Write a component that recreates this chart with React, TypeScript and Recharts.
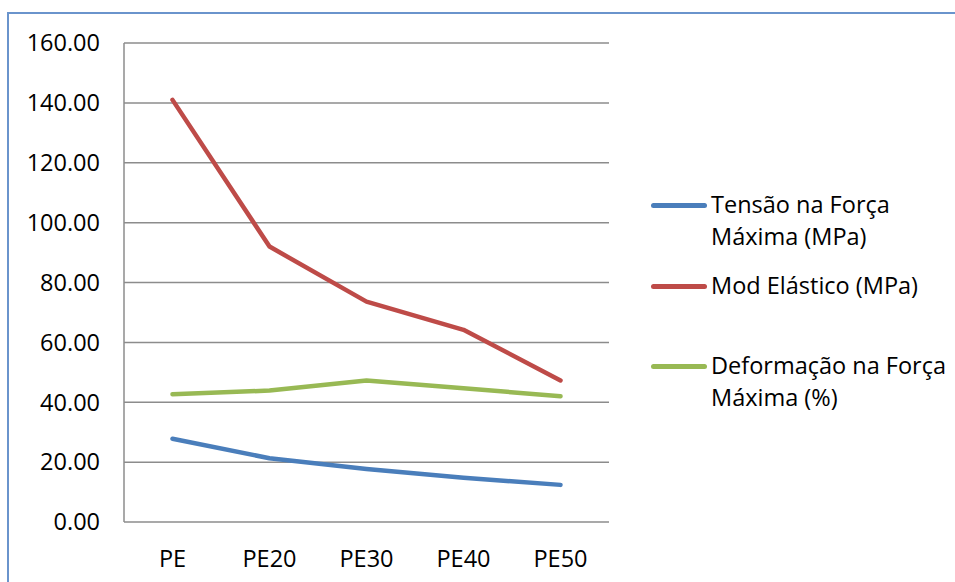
import { LineChart, Line, XAxis, YAxis, CartesianGrid } from "recharts";

const categories = ["PE", "PE20", "PE30", "PE40", "PE50"];
const tensao = [27.8, 21.3, 17.7, 14.8, 12.4];
const modElastico = [141.0, 92.0, 73.6, 64.2, 47.3];
const deformacao = [42.7, 43.9, 47.3, 44.7, 42.0];
const yTicks = [0, 20, 40, 60, 80, 100, 120, 140, 160];

const series = [
  { key: "tensao", name: "Tensão na Força Máxima (MPa)", color: "#4A7EBB" },
  { key: "mod", name: "Mod Elástico (MPa)", color: "#BE4B48" },
  { key: "deform", name: "Deformação na Força Máxima (%)", color: "#98B954" },
];

const data = categories.map((cat, i) => ({
  cat,
  tensao: tensao[i],
  mod: modElastico[i],
  deform: deformacao[i],
}));

const FONT = "'Open Sans', sans-serif";
const FONT_SIZE = 23.5;

// vertical offsets of each legend entry (Excel spreads them unevenly)
const legendTops = [0, 81, 161];

const LegendBox = () => (
  <div
    style={{
      position: "absolute",
      left: 651,
      top: 191,
      width: 300,
      height: 240,
      fontFamily: FONT,
      fontSize: FONT_SIZE,
      color: "#000",
    }}
  >
    {series.map((s, i) => (
      <div key={s.key} style={{ position: "absolute", left: 0, top: legendTops[i], display: "flex", alignItems: "flex-start" }}>
        <div style={{ width: 56, height: 5, borderRadius: 3, background: s.color, marginTop: 12, marginRight: 4, flexShrink: 0 }} />
        <div style={{ width: 240, lineHeight: "32px", marginTop: -3 }}>{s.name}</div>
      </div>
    ))}
  </div>
);

export default function App() {
  return (
    <div style={{ position: "absolute", left: 0, top: 0, width: 955, height: 582, background: "#fff", overflow: "hidden" }}>
      <div style={{ position: "absolute", left: 7, top: 12, width: 960, height: 600, border: "2px solid #6A94CC" }} />
      <LineChart
        width={955}
        height={582}
        data={data}
        margin={{ top: 43, right: 346, bottom: 0, left: 0 }}
        style={{ position: "absolute", left: 0, top: 0 }}
      >
        <CartesianGrid vertical={false} stroke="#8C8C8C" strokeWidth={1.5} />
        <XAxis
          dataKey="cat"
          height={60}
          padding={{ left: 48.5, right: 48.5 }}
          axisLine={false}
          tickLine={false}
          tickMargin={22}
          tick={{ fill: "#000", fontSize: FONT_SIZE, fontFamily: FONT }}
        />
        <YAxis
          width={124}
          domain={[0, 160]}
          ticks={yTicks}
          interval={0}
          tickFormatter={(v: number) => v.toFixed(2)}
          axisLine={{ stroke: "#8C8C8C", strokeWidth: 1.5 }}
          tickLine={false}
          tickMargin={18}
          tick={{ fill: "#000", fontSize: FONT_SIZE, fontFamily: FONT }}
        />
        {series.map((s) => (
          <Line
            key={s.key}
            type="linear"
            dataKey={s.key}
            name={s.name}
            stroke={s.color}
            strokeWidth={4.5}
            strokeLinecap="round"
            strokeLinejoin="round"
            dot={false}
            activeDot={false}
            isAnimationActive={false}
          />
        ))}
      </LineChart>
      <LegendBox />
    </div>
  );
}
